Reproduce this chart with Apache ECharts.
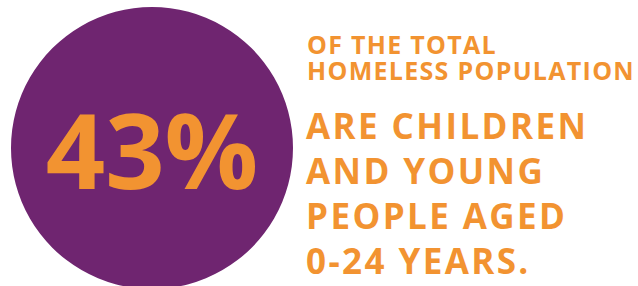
<!DOCTYPE html>
<html lang="en">
<head>
    <meta charset="UTF-8">
    <title>Homeless population</title>
    <script src="https://cdn.jsdelivr.net/npm/echarts@6/dist/echarts.min.js"></script>
    <style>
        html, body { margin: 0; padding: 0; background: #fff; }
        #main { width: 638px; height: 286px; }
        /* the side text is set with some tracking */
        #main text { letter-spacing: 2.4px; }
        #main text[style*="25px"] { letter-spacing: 1.3px; }
        #main text[style*="104px"] { letter-spacing: 0; }
    </style>
</head>
<body>
    <div id="main"></div>
    <script>
        // data
        var share = 43;
        var headLines = ['OF THE TOTAL', 'HOMELESS POPULATION'];
        var bodyLines = ['ARE CHILDREN', 'AND YOUNG', 'PEOPLE AGED', '0-24 YEARS.'];

        var purple = '#6f2570';
        var orange = '#f29331';
        var font = '"Open Sans", "Noto Sans", sans-serif';

        var myChart = echarts.init(document.getElementById('main'), null, { renderer: 'svg' });

        var texts = [];
        headLines.forEach(function (t, i) {
            texts.push({
                type: 'text',
                left: 307,
                top: 30.5 + i * 26.5,
                style: { text: t, fill: orange, font: 'bold 25px ' + font, lineHeight: 26 }
            });
        });
        bodyLines.forEach(function (t, i) {
            texts.push({
                type: 'text',
                left: 306,
                top: 108 + i * 45,
                style: { text: t, fill: orange, font: 'bold 35px ' + font }
            });
        });

        var option = {
            animation: false,
            series: [
                {
                    type: 'pie',
                    center: [152, 148],
                    radius: [0, 141],
                    silent: true,
                    color: [purple],
                    label: {
                        show: true,
                        position: 'center',
                        formatter: function () { return share + '%'; },
                        color: orange,
                        fontFamily: font,
                        fontWeight: 'bold',
                        fontSize: 104,
                        padding: [16, 0, 0, 0]
                    },
                    labelLine: { show: false },
                    data: [{ value: share, name: 'share' }]
                }
            ],
            graphic: texts
        };

        myChart.setOption(option);
    </script>
</body>
</html>
